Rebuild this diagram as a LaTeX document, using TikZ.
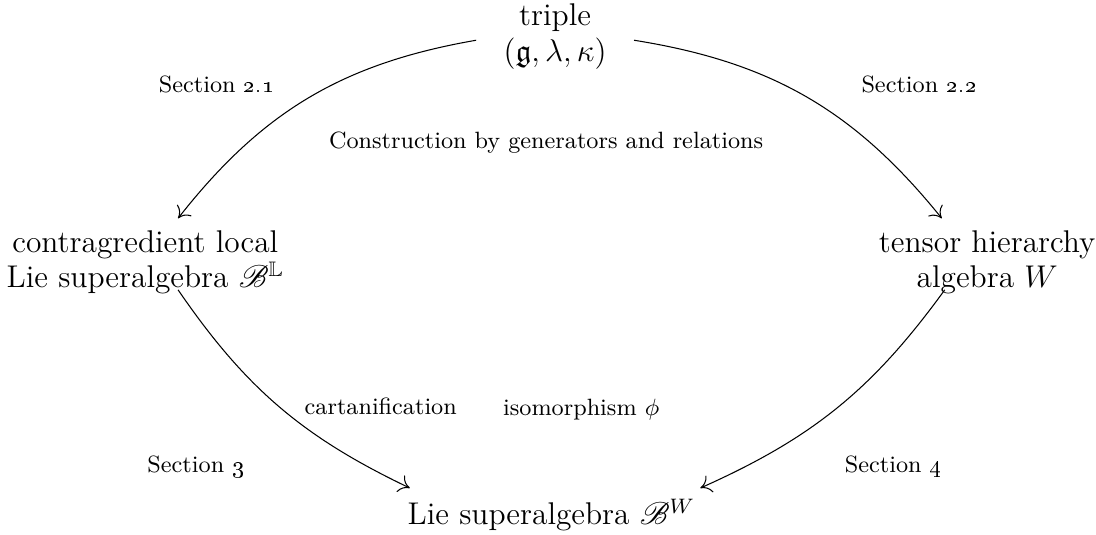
\documentclass[tikz,border=0pt]{standalone}
\usepackage{amsmath}
\usepackage{amssymb}
\usepackage{mathrsfs}
\usepackage{tikz}
\usetikzlibrary{arrows.meta}

\begin{document}
\begin{tikzpicture}[thin, >={To[length=4pt,width=7pt]},
		obj/.style={font=\fontsize{12}{13.6}\selectfont, align=center}, lbl/.style={font=\small}]
	\useasboundingbox (0,0) rectangle (14.71,-7.18);
	\node[obj] (triple) at (7.45,-0.49) {triple\\$(\mathfrak{g},\lambda,\kappa)$};
	\node[obj] (local) at (1.95,-3.52) {contragredient local\\Lie superalgebra $\mathscr{B}^{\mathbb{L}}$};
	\node[obj] (tha) at (13.25,-3.52) {tensor hierarchy\\algebra $W$};
	\node[obj] (lsa) at (7.40,-6.91) {Lie superalgebra $\mathscr{B}^{W}$};
	\node[lbl] (s21) at (2.91,-1.14) {Section \oldstylenums{2.1}};
	\node[lbl] (s22) at (12.34,-1.14) {Section \oldstylenums{2.2}};
	\node[lbl] (gen) at (7.33,-1.91) {Construction by generators and relations};
	\node[lbl] (cart) at (5.11,-5.46) {cartanification};
	\node[lbl] (iso) at (7.80,-5.50) {isomorphism $\phi$};
	\node[lbl] (s3) at (2.63,-6.26) {Section \oldstylenums{3}};
	\node[lbl] (s4) at (11.99,-6.26) {Section \oldstylenums{4}};
	\draw[->] ([shift={(-1.06,-0.05)}]triple.center) to[bend right=21] ([shift={(0.44,0.59)}]local.center);
	\draw[->] ([shift={(1.06,-0.05)}]triple.center) to[bend left=21] ([shift={(-0.61,0.59)}]tha.center);
	\draw[->] ([shift={(0.44,-0.37)}]local.center) to[bend right=15] ([shift={(-1.90,0.36)}]lsa.center);
	\draw[->] ([shift={(-0.57,-0.37)}]tha.center) to[bend left=15] ([shift={(2.00,0.36)}]lsa.center);
\end{tikzpicture}
\end{document}
